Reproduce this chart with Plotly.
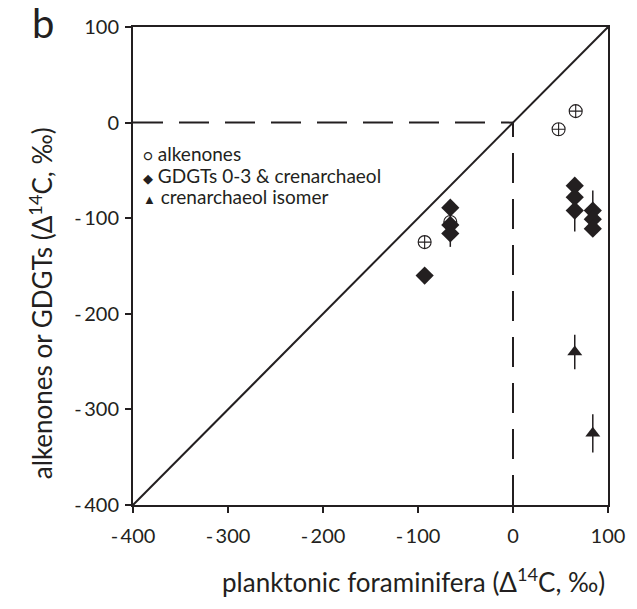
import plotly.graph_objects as go

# ---- data ----
alk_x = [-93, -66, 48, 66]
alk_y = [-125, -104, -7, 12]

gdgt_x = [-93, -66, -66, -66, 65, 65, 65, 84, 84, 84]
gdgt_y = [-160, -89, -107, -116, -66, -78, -92, -92, -101, -111]
gdgt_err = [0, 0, 0, 14, 0, 0, 22, 21, 0, 0]

iso_x = [65, 84]
iso_y = [-240, -325]
iso_err = [18, 20]

one_to_one = [-400, 100]
dash_h_x = [-400, 0]
dash_h_y = [0, 0]
dash_v_x = [0, 0]
dash_v_y = [-400, 0]

tick_vals = [-400, -300, -200, -100, 0, 100]
tick_text = ["-\u2009400", "-\u2009300", "-\u2009200", "-\u2009100", "0", "100"]

legend_symbols = ["○", "◆", "▲"]
legend_names = ["alkenones", "GDGTs 0-3 &amp; crenarchaeol", "crenarchaeol isomer"]

FONT = "Lato"
INK = "#231f20"

fig = go.Figure()

# reference lines
fig.add_trace(go.Scatter(x=one_to_one, y=one_to_one, mode="lines",
                         line=dict(color=INK, width=2), showlegend=False, hoverinfo="skip"))
fig.add_trace(go.Scatter(x=dash_h_x, y=dash_h_y, mode="lines",
                         line=dict(color=INK, width=2, dash="30px,16px"), showlegend=False, hoverinfo="skip"))
fig.add_trace(go.Scatter(x=dash_v_x, y=dash_v_y, mode="lines",
                         line=dict(color=INK, width=2, dash="30px,16px"), showlegend=False, hoverinfo="skip"))

# data
fig.add_trace(go.Scatter(x=alk_x, y=alk_y, mode="markers", showlegend=False,
                         marker=dict(symbol="circle-cross-open", size=13, color=INK,
                                     line=dict(width=1.1, color=INK))))
fig.add_trace(go.Scatter(x=iso_x, y=iso_y, mode="markers", showlegend=False,
                         error_y=dict(type="data", array=iso_err, color=INK, thickness=1.5, width=0),
                         marker=dict(symbol="triangle-up", size=13, color=INK)))
fig.add_trace(go.Scatter(x=gdgt_x, y=gdgt_y, mode="markers", showlegend=False,
                         error_y=dict(type="data", array=gdgt_err, color=INK, thickness=1.5, width=0),
                         marker=dict(symbol="diamond", size=14, color=INK)))

axis_common = dict(range=[-400, 100], tickvals=tick_vals, ticktext=tick_text,
                   showgrid=False, zeroline=False, showline=True, linecolor=INK,
                   linewidth=2, mirror=True, ticks="outside", ticklen=6, tickcolor=INK,
                   tickwidth=1.5, tickfont=dict(family=FONT, size=20, color=INK))

fig.update_layout(
    width=637, height=609,
    margin=dict(l=133, r=25, t=27, b=104),
    paper_bgcolor="white", plot_bgcolor="white",
    font=dict(family=FONT, color=INK),
    showlegend=False,
    xaxis=dict(**axis_common, ticklabelstandoff=6),
    yaxis=dict(**axis_common, ticklabelstandoff=2),
)

W, H = 479.5, 477.5
def px(xp):
    return (xp - 133) / W
def py(yp):
    return (504.5 - yp) / H

# axis titles
fig.add_annotation(text="planktonic foraminifera (Δ<sup>14</sup>C, ‰)", xref="paper", yref="paper",
                   x=px(416), y=py(580), xanchor="center", yanchor="middle", showarrow=False,
                   font=dict(family=FONT, size=26, color=INK))
fig.add_annotation(text="alkenones or GDGTs (Δ<sup>14</sup>C, ‰)", xref="paper", yref="paper",
                   x=px(40), y=py(303), xanchor="center", yanchor="middle", showarrow=False,
                   textangle=-90, font=dict(family=FONT, size=26, color=INK))

# legend (as text)
leg_y = [153, 175, 196]
leg_size = [15, 13, 13]
for sym, name, yy, ss in zip(legend_symbols, legend_names, leg_y, leg_size):
    fig.add_annotation(text=f"<span style='font-size:{ss}px'>{sym}</span> {name}",
                       xref="paper", yref="paper", x=px(141), y=py(yy),
                       xanchor="left", yanchor="middle", showarrow=False,
                       font=dict(family=FONT, size=19, color=INK))

# panel label
fig.add_annotation(text="b", xref="paper", yref="paper", x=px(42), y=py(23),
                   xanchor="center", yanchor="middle", showarrow=False,
                   font=dict(family=FONT, size=40, color=INK))

fig.write_html("out.html")
